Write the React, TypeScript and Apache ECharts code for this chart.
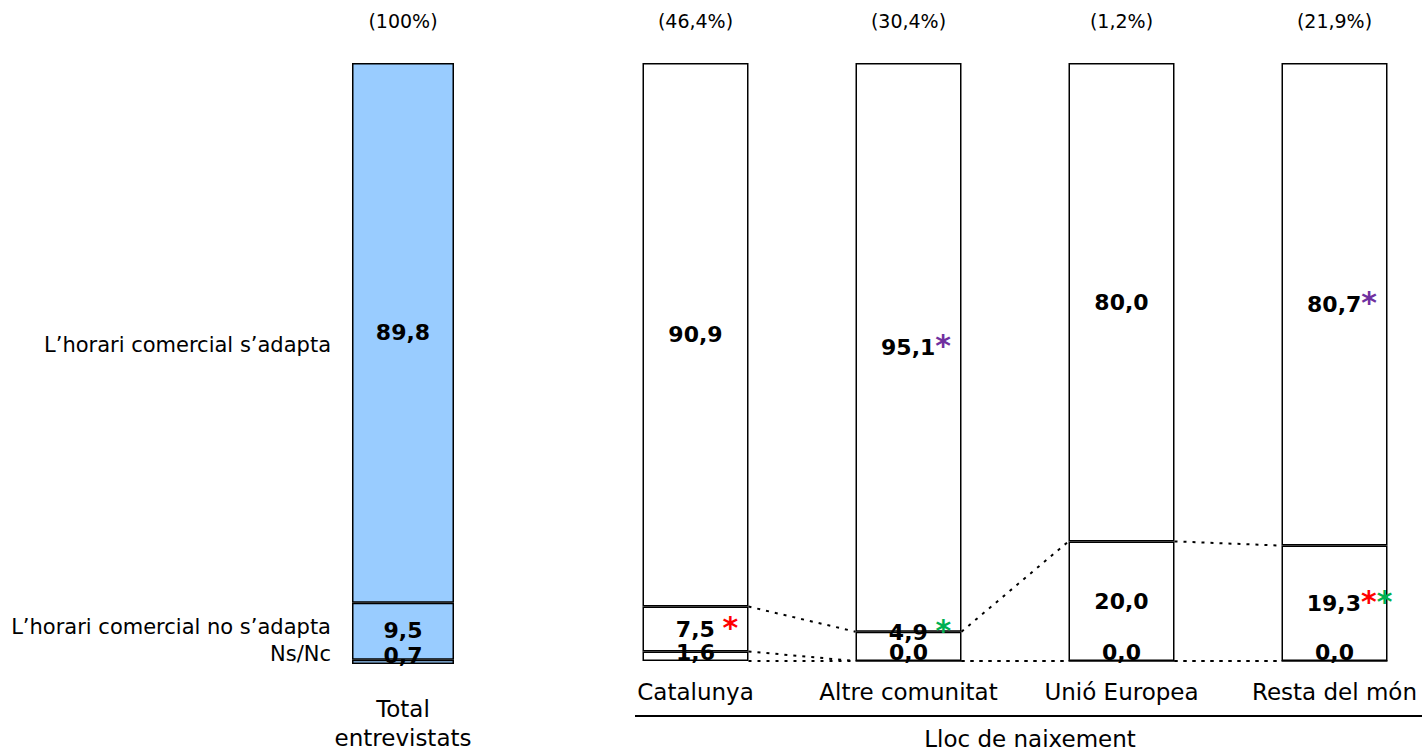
import React, { useEffect, useRef } from "react";
import * as echarts from "echarts";

const totalCategory = ["Total\nentrevistats"];
const totalShare = ["(100%)"];
const totalNsNc = [0.7];
const totalNo = [9.5];
const totalYes = [89.8];

const categories = ["Catalunya", "Altre comunitat", "Unió Europea", "Resta del món"];
const groupShares = ["(46,4%)", "(30,4%)", "(1,2%)", "(21,9%)"];
const nsNc = [1.6, 0.0, 0.0, 0.0];
const noAdapta = [7.5, 4.9, 20.0, 19.3];
const adapta = [90.9, 95.1, 80.0, 80.7];
// significance marks: r = red, g = green, p = purple, space = gap
const marksNo = [" r", " g", "", "rg"];
const marksYes = ["", "p", "", "p"];

const rowLabels = ["L’horari comercial s’adapta", "L’horari comercial no s’adapta", "Ns/Nc"];
const axisTitle = "Lloc de naixement";

const FONT = "'DejaVu Sans', Verdana, sans-serif";
const BAR_W = 106;
const TOTAL_W = 102;

const fmt = (v: number) => v.toFixed(1).replace(".", ",");

function richText(v: number, mark: string) {
  let s = `{n|${fmt(v)}}`;
  for (const ch of mark) {
    if (ch === " ") s += "{sp| }";
    else s += `{${ch}|*}`;
  }
  return s;
}
function markShift(mark: string) {
  let w = 0;
  for (const ch of mark) w += ch === " " ? 8 : 15;
  return w / 2;
}

const rich = {
  n: { fontFamily: FONT, fontSize: 22, fontWeight: "bold", color: "#000" },
  sp: { fontFamily: FONT, fontSize: 22, fontWeight: "bold", color: "#000" },
  r: { fontFamily: FONT, fontSize: 30, fontWeight: "bold", color: "#FF0000", padding: [0, 0, 4, 0] },
  g: { fontFamily: FONT, fontSize: 30, fontWeight: "bold", color: "#00B050", padding: [0, 0, 4, 0] },
  p: { fontFamily: FONT, fontSize: 30, fontWeight: "bold", color: "#7030A0", padding: [0, 0, 4, 0] },
};

export default function App() {
  const ref = useRef<HTMLDivElement>(null);
  useEffect(() => {
    if (!ref.current) return;
    const chart = echarts.init(ref.current, null, { renderer: "svg" });

    const cumNs = nsNc.slice();
    const cumNo = nsNc.map((v, i) => v + noAdapta[i]);
    const bottoms = nsNc.map(() => 0);
    const connectors: number[][] = [];
    [bottoms, cumNs, cumNo].forEach((lvl) => {
      for (let i = 0; i < lvl.length - 1; i++) connectors.push([i, lvl[i], lvl[i + 1]]);
    });

    const barLabelBase = {
      show: true,
      rich,
      fontFamily: FONT,
    };

    const option: any = {
      animation: false,
      backgroundColor: "#fff",
      grid: [
        { left: 352, top: 63, width: TOTAL_W, height: 601 },
        { left: 589, top: 63, width: 852, height: 598 },
      ],
      xAxis: [
        {
          gridIndex: 0,
          type: "category",
          data: totalCategory,
          axisLine: { show: false },
          axisTick: { show: false },
          axisLabel: { interval: 0, fontFamily: FONT, fontSize: 23, color: "#000", lineHeight: 29, margin: 30 },
        },
        {
          gridIndex: 1,
          type: "category",
          data: categories,
          axisLine: { show: false },
          axisTick: { show: false },
          axisLabel: { interval: 0, fontFamily: FONT, fontSize: 23, color: "#000", lineHeight: 28, margin: 17 },
        },
        {
          gridIndex: 0,
          type: "category",
          position: "top",
          data: totalShare,
          axisLine: { show: false },
          axisTick: { show: false },
          axisLabel: { interval: 0, fontFamily: FONT, fontSize: 19, color: "#000", margin: 33 },
        },
        {
          gridIndex: 1,
          type: "category",
          position: "top",
          data: groupShares,
          axisLine: { show: false },
          axisTick: { show: false },
          axisLabel: { interval: 0, fontFamily: FONT, fontSize: 19, color: "#000", margin: 33 },
        },
      ],
      yAxis: [
        { gridIndex: 0, type: "value", min: 0, max: 100, show: false },
        { gridIndex: 1, type: "value", min: 0, max: 100, show: false },
      ],
      series: [
        {
          type: "bar",
          xAxisIndex: 0,
          yAxisIndex: 0,
          stack: "total",
          barWidth: TOTAL_W,
          data: totalNsNc,
          itemStyle: { color: "#99CCFF", borderColor: "#000", borderWidth: 1.5 },
          label: { ...barLabelBase, position: "insideBottom", distance: -2, formatter: (p: any) => richText(p.value, "") },
        },
        {
          type: "bar",
          xAxisIndex: 0,
          yAxisIndex: 0,
          stack: "total",
          barWidth: TOTAL_W,
          data: totalNo,
          itemStyle: { color: "#99CCFF", borderColor: "#000", borderWidth: 1.5 },
          label: { ...barLabelBase, position: "inside", offset: [0, -1], formatter: (p: any) => richText(p.value, "") },
        },
        {
          type: "bar",
          xAxisIndex: 0,
          yAxisIndex: 0,
          stack: "total",
          barWidth: TOTAL_W,
          data: totalYes,
          itemStyle: { color: "#99CCFF", borderColor: "#000", borderWidth: 1.5 },
          label: { ...barLabelBase, position: "inside", formatter: (p: any) => richText(p.value, "") },
        },
        {
          type: "bar",
          xAxisIndex: 1,
          yAxisIndex: 1,
          stack: "grp",
          barWidth: BAR_W,
          data: nsNc,
          itemStyle: { color: "#fff", borderColor: "#000", borderWidth: 1.5 },
          label: { ...barLabelBase, position: "insideBottom", distance: -2, formatter: (p: any) => richText(p.value, "") },
        },
        {
          type: "bar",
          xAxisIndex: 1,
          yAxisIndex: 1,
          stack: "grp",
          barWidth: BAR_W,
          data: noAdapta.map((v, i) => ({
            value: v,
            label: { offset: [markShift(marksNo[i]), i === 1 ? -14 : 0] },
          })),
          itemStyle: { color: "#fff", borderColor: "#000", borderWidth: 1.5 },
          label: { ...barLabelBase, position: "inside", formatter: (p: any) => richText(p.value, marksNo[p.dataIndex]) },
        },
        {
          type: "bar",
          xAxisIndex: 1,
          yAxisIndex: 1,
          stack: "grp",
          barWidth: BAR_W,
          data: adapta.map((v, i) => ({ value: v, label: { offset: [markShift(marksYes[i]), 0] } })),
          itemStyle: { color: "#fff", borderColor: "#000", borderWidth: 1.5 },
          label: { ...barLabelBase, position: "inside", formatter: (p: any) => richText(p.value, marksYes[p.dataIndex]) },
        },
        {
          type: "custom",
          xAxisIndex: 1,
          yAxisIndex: 1,
          silent: true,
          z: 5,
          data: connectors,
          encode: { x: 0, y: 1 },
          renderItem: (params: any, api: any) => {
            const i = api.value(0);
            const a = api.coord([i, api.value(1)]);
            const b = api.coord([i + 1, api.value(2)]);
            return {
              type: "line",
              shape: { x1: a[0] + BAR_W / 2, y1: a[1], x2: b[0] - BAR_W / 2, y2: b[1] },
              style: { stroke: "#000", lineWidth: 2, lineDash: [3, 6] },
            };
          },
        },
      ],
      graphic: [
        {
          type: "text",
          x: 331,
          y: 345,
          style: { text: rowLabels[0], font: `21px ${FONT}`, fill: "#000", textAlign: "right", textVerticalAlign: "middle" },
        },
        {
          type: "text",
          x: 331,
          y: 627,
          style: { text: rowLabels[1], font: `21px ${FONT}`, fill: "#000", textAlign: "right", textVerticalAlign: "middle" },
        },
        {
          type: "text",
          x: 331,
          y: 654,
          style: { text: rowLabels[2], font: `21px ${FONT}`, fill: "#000", textAlign: "right", textVerticalAlign: "middle" },
        },
        {
          type: "line",
          shape: { x1: 635, y1: 716, x2: 1422, y2: 716 },
          style: { stroke: "#000", lineWidth: 2 },
        },
        {
          type: "text",
          x: 1030,
          y: 739,
          style: { text: axisTitle, font: `23px ${FONT}`, fill: "#000", textAlign: "center", textVerticalAlign: "middle" },
        },
      ],
    };
    chart.setOption(option);
    return () => chart.dispose();
  }, []);
  return (
    <div
      ref={ref}
      style={{ position: "fixed", left: 0, top: 0, width: 1460, height: 752, background: "#fff" }}
    />
  );
}
